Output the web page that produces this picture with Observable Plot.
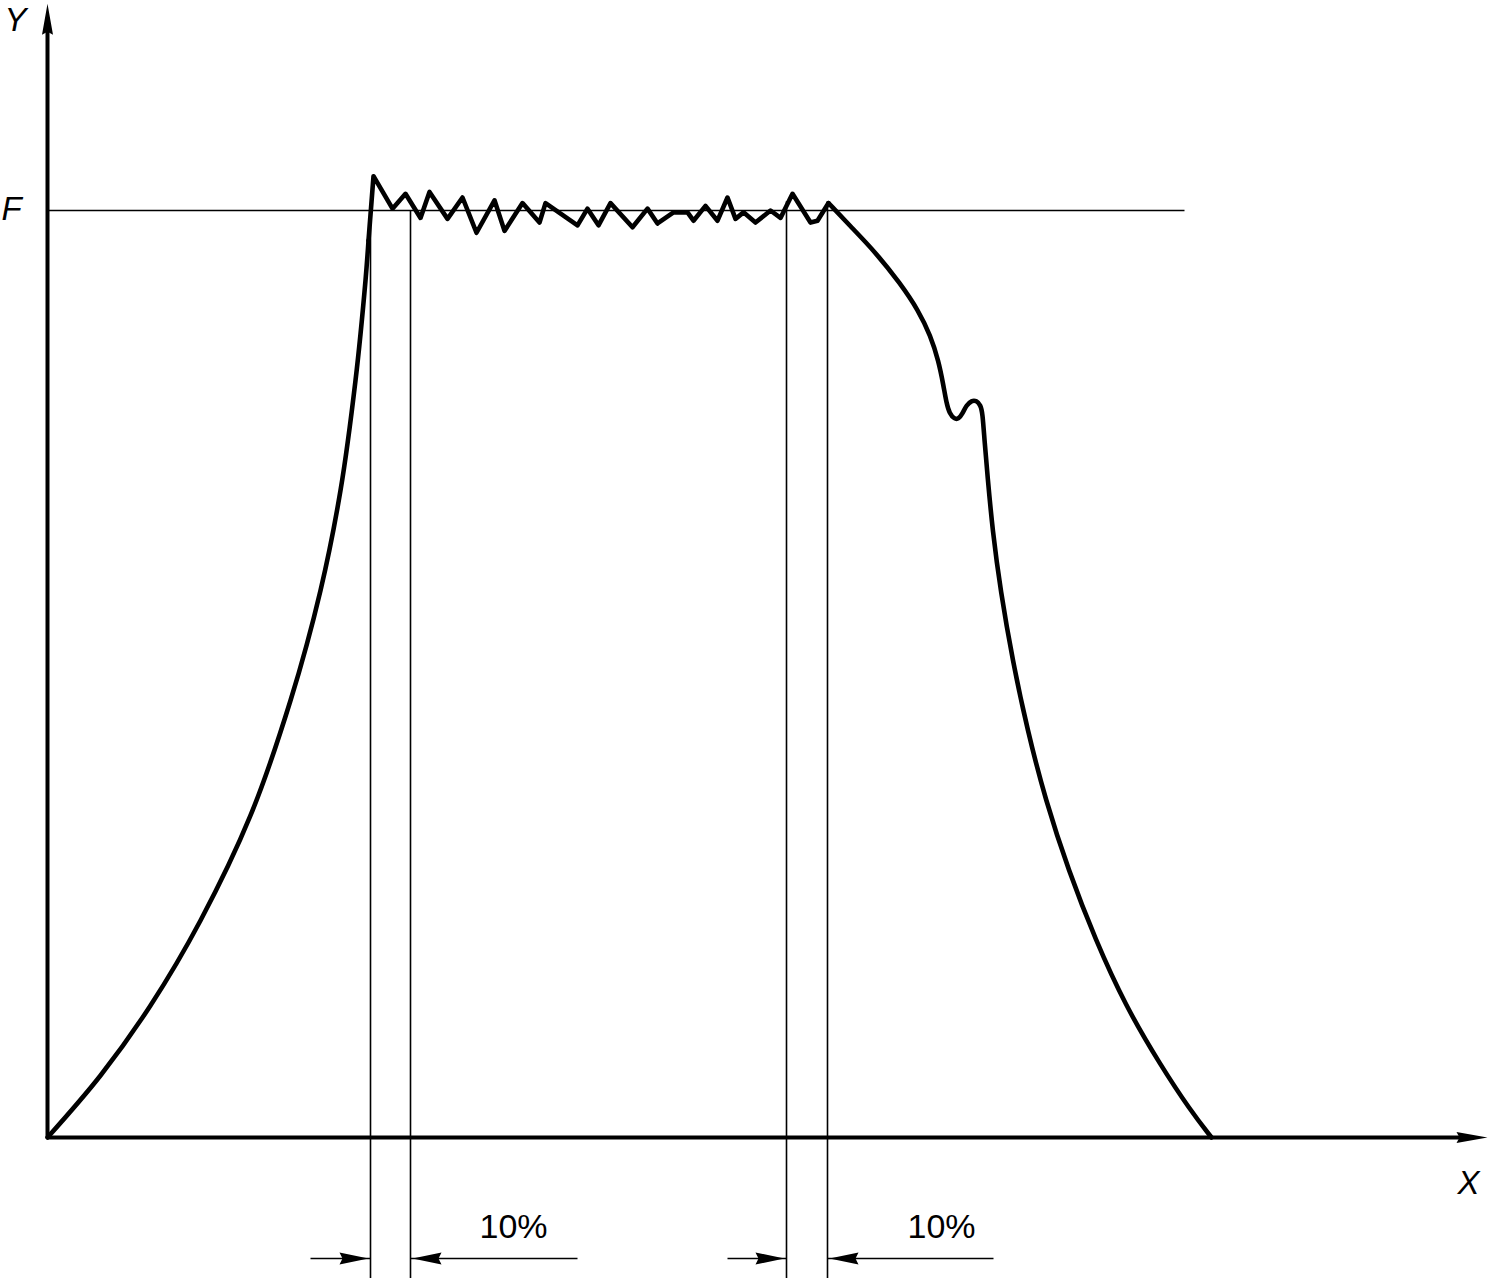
<!DOCTYPE html>
<html>
<head>
<meta charset="utf-8">
<script src="https://cdn.jsdelivr.net/npm/d3@7"></script>
<script src="https://cdn.jsdelivr.net/npm/@observablehq/plot@0.6"></script>
<style>
  html, body { margin: 0; padding: 0; background: #fff; }
  #chart svg { display: block; }
</style>
</head>
<body>
<div id="chart"></div>
<script>
// ---- Data (x in arbitrary length units from origin, y in % of F) ----
const F = 100;
const riseX = [0, 53, 103, 153, 203, 243, 273, 293, 308, 318, 321];
const riseY = [0, 6.69, 14.24, 23.41, 34.74, 47.14, 59.01, 69.80, 81.66, 92.45, 96.76];

const plateauX = [321, 326, 345, 358, 373, 382, 400, 415, 429, 447, 457, 475, 492, 498, 530, 540, 551, 563, 585, 600, 610, 626, 640, 646, 658, 670, 680, 688, 696, 708, 723, 733, 745, 763, 770, 781];
const plateauY = [96.76, 103.7, 100.2, 101.8, 99.2, 102.0, 99.1, 101.4, 97.6, 101.1, 97.8, 100.8, 98.7, 100.8, 98.4, 100.2, 98.4, 100.8, 98.2, 100.2, 98.6, 99.8, 99.8, 98.9, 100.5, 98.9, 101.4, 99.1, 99.8, 98.7, 100.0, 99.2, 101.8, 98.7, 98.9, 100.8];

const fallX = [781, 803, 828, 853, 871, 883, 891, 896, 899, 902, 907, 911, 915, 919, 924, 929, 933, 935, 937, 940, 945, 953, 965, 980, 998, 1021, 1048, 1078, 1113, 1143, 1164];
const fallY = [100.8, 98.3, 95.5, 92.1, 89.2, 86.5, 83.8, 81.1, 79.2, 78.1, 77.5, 77.5, 78.1, 79.0, 79.5, 79.5, 79.0, 78.2, 75.2, 71.4, 65.5, 59.0, 51.5, 43.9, 36.4, 28.8, 21.3, 14.2, 7.8, 2.9, 0];

const fLineEnd = 1137;                 // extent of the F reference line
const guideX = [323, 363, 739, 780];   // vertical construction lines
const guideTop = [100, 100, 101, 101];
const axisXMax = 1440;                 // tip of X arrow
const axisYMax = 122.3;                // tip of Y arrow

const bandStart = [323, 739];          // 10% intervals
const bandEnd = [363, 780];
const bandLabel = ["10%", "10%"];
const labelX = [466, 894];
const leaderOut = [263, 680];          // outer end of left leader
const leaderIn = [530, 946];           // outer end of right leader

const axisLabels = ["Y", "F", "X"];
const axisLabelX = [-32, -36, 1421];
const axisLabelY = [120.5, 100.1, -4.96];

// ---- derived tables ----
const rise = riseX.map((x, i) => ({x, y: riseY[i]}));
const plateau = plateauX.map((x, i) => ({x, y: plateauY[i]}));
const fall = fallX.map((x, i) => ({x, y: fallY[i]}));
const yBottom = -15.21;
const yDim = -13.05;
const yLbl = -9.71;
const guides = guideX.map((x, i) => ({x, y1: guideTop[i], y2: yBottom}));
const dims = bandStart.map((s, i) => ({s, e: bandEnd[i], out: leaderOut[i], inn: leaderIn[i], lx: labelX[i], label: bandLabel[i]}));
const labels = axisLabels.map((t, i) => ({t, x: axisLabelX[i], y: axisLabelY[i]}));

// ---- arrowhead symbols (tip at origin) ----
function arrowSymbol(dir, len, hw) {
  return {
    draw(ctx) {
      const pts = [[0, 0], [hw, len], [0, len - 3], [-hw, len]];
      const rot = ([px, py]) => {
        if (dir === "right") return [-py, px];
        if (dir === "left") return [py, -px];
        return [px, py];
      };
      const p = pts.map(rot);
      ctx.moveTo(p[0][0], p[0][1]);
      for (let k = 1; k < p.length; k++) ctx.lineTo(p[k][0], p[k][1]);
      ctx.closePath();
    }
  };
}

const curveStyle = {x: "x", y: "y", stroke: "black", strokeWidth: 4.6, strokeLinejoin: "round", strokeLinecap: "round"};

const chart = Plot.plot({
  width: 1489,
  height: 1278,
  margin: 0,
  x: {domain: [-47, 1442], axis: null},
  y: {domain: [yBottom, 122.654], axis: null},
  style: {background: "#fff", fontFamily: "'Liberation Sans', Arial, sans-serif"},
  marks: [
    // F reference line
    Plot.link([F], {x1: 0, x2: fLineEnd, y1: d => d, y2: d => d, stroke: "black", strokeWidth: 1.3}),
    // vertical construction lines
    Plot.link(guides, {x1: "x", x2: "x", y1: "y1", y2: "y2", stroke: "black", strokeWidth: 1.6}),
    // dimension leaders
    Plot.link(dims, {x1: "out", x2: "s", y1: yDim, y2: yDim, stroke: "black", strokeWidth: 1.6}),
    Plot.link(dims, {x1: "e", x2: "inn", y1: yDim, y2: yDim, stroke: "black", strokeWidth: 1.6}),
    Plot.dot(dims, {x: d => d.s - 2, y: yDim, symbol: arrowSymbol("right", 29, 6), fill: "black", stroke: "none"}),
    Plot.dot(dims, {x: d => d.e + 2, y: yDim, symbol: arrowSymbol("left", 29, 6), fill: "black", stroke: "none"}),
    Plot.text(dims, {x: "lx", y: yLbl, text: "label", fontSize: 34, fill: "black"}),
    // axes
    Plot.link([0], {x1: 0, x2: axisXMax - 25, y1: 0, y2: 0, stroke: "black", strokeWidth: 4}),
    Plot.link([0], {x1: 0, x2: 0, y1: 0, y2: axisYMax - 2.8, stroke: "black", strokeWidth: 4}),
    Plot.dot([0], {x: axisXMax, y: 0, symbol: arrowSymbol("right", 31, 5.5), fill: "black", stroke: "none"}),
    Plot.dot([0], {x: 0, y: axisYMax, symbol: arrowSymbol("up", 31, 5.5), fill: "black", stroke: "none"}),
    // curve
    Plot.line(rise, {...curveStyle, curve: "catmull-rom"}),
    Plot.line(plateau, {...curveStyle, curve: "linear"}),
    Plot.line(fall, {...curveStyle, curve: "basis"}),
    // axis labels
    Plot.text(labels, {x: "x", y: "y", text: "t", fontSize: 33, fontStyle: "italic", fill: "black"})
  ]
});
document.getElementById("chart").appendChild(chart);
</script>
</body>
</html>
